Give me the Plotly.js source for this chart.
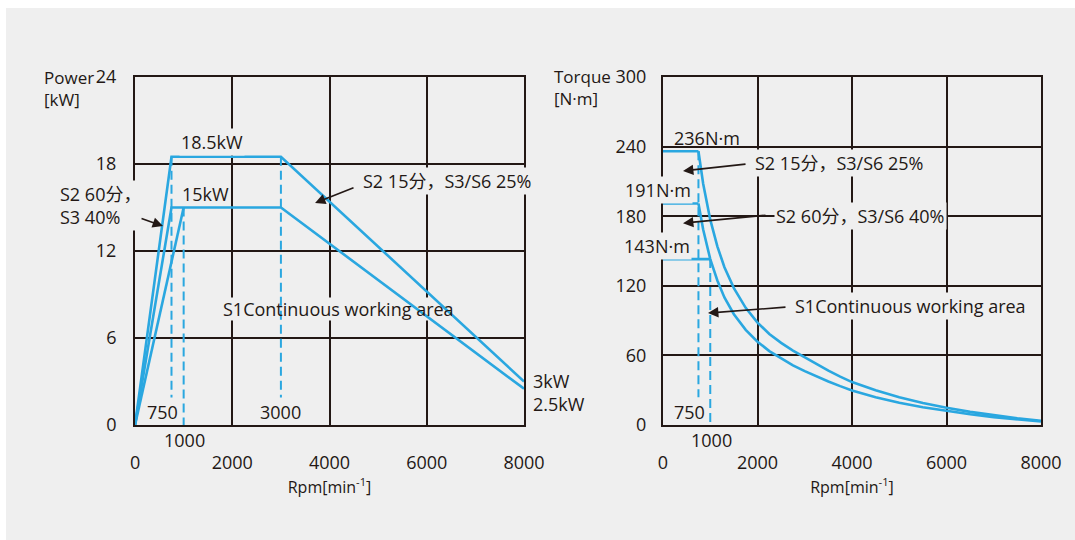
<!DOCTYPE html>
<html>
<head>
<meta charset="utf-8">
<script src="https://cdn.plot.ly/plotly-3.0.1.min.js"></script>
<style>
  html, body { margin: 0; padding: 0; background: #ffffff; }
  #chart { position: absolute; left: 6px; top: 8px; width: 1069px; height: 532px; }
</style>
</head>
<body>
<div id="chart"></div>
<script>
// ---------- data ----------
const rpmTicks = [0, 2000, 4000, 6000, 8000];
const powerTicks = [0, 6, 12, 18, 24];
const torqueTicks = [0, 60, 120, 180, 240, 300];

// Power chart (kW vs rpm)
const rpmPower = [0, 750, 3000, 8000];
const powerS2_15 = [0, 18.5, 18.5, 3];
const powerS2_60 = [0, 15, 15, 2.5];
const rpmS1 = [0, 1000];
const powerS1 = [0, 15];

// Torque chart (N·m vs rpm)
const rpmFlatS2 = [0, 750];
const torqueFlatS2_15 = [236, 236];
const torqueFlatS2_60 = [191, 191];
const rpmFlatS1 = [0, 1000];
const torqueFlatS1 = [143, 143];
const rpmCurve = [750, 850, 1000, 1150, 1300, 1500, 1750, 2000, 2250, 2500, 2750, 3000, 3250, 3500, 3750, 4000, 4500, 5000, 5500, 6000, 6500, 7000, 7500, 8000];
const torqueS2_15 = [236, 208, 177, 154, 136, 118, 101, 88.3, 78.5, 70.8, 64.2, 58.3, 52.4, 46.8, 41.7, 37, 30, 24, 19, 14.8, 11.3, 8.4, 5.8, 3.6];
const torqueS2_60 = [191, 168.5, 143, 124.6, 110, 95.5, 82, 71.8, 63.7, 57.2, 51.4, 46.4, 41.8, 37.5, 33.5, 29.8, 24, 19.2, 15.3, 12, 9.2, 6.8, 4.8, 3.0];

// dashed guide lines
const guideRpm750 = [750, 750];
const guideRpm1000 = [1000, 1000];
const guideRpm3000 = [3000, 3000];
const guidePower750 = [18.5, 1.9];
const guidePower1000 = [15, 0];
const guidePower3000 = [18.5, 1.9];
const guideTorque750 = [236, 24];
const guideTorque1000 = [143, 0];

// ---------- styles ----------
const BLUE = '#2aa7e0';
const INK = '#231815';
const BG = '#efefef';
const FONT = '"Open Sans", "Noto Sans CJK SC", sans-serif';
const FS = 18;

function solid(x, y, xa, ya) {
  return { x: x, y: y, xaxis: xa, yaxis: ya, type: 'scatter', mode: 'lines',
    line: { color: BLUE, width: 2.6 }, hoverinfo: 'skip', showlegend: false };
}
function dashed(x, y, xa, ya) {
  return { x: x, y: y, xaxis: xa, yaxis: ya, type: 'scatter', mode: 'lines',
    line: { color: BLUE, width: 2, dash: '9px,5px' }, hoverinfo: 'skip', showlegend: false };
}

const traces = [
  solid(rpmPower, powerS2_15, 'x', 'y'),
  solid(rpmPower, powerS2_60, 'x', 'y'),
  solid(rpmS1, powerS1, 'x', 'y'),
  dashed(guideRpm750, guidePower750, 'x', 'y'),
  dashed(guideRpm1000, guidePower1000, 'x', 'y'),
  dashed(guideRpm3000, guidePower3000, 'x', 'y'),

  solid(rpmFlatS2, torqueFlatS2_15, 'x2', 'y2'),
  solid(rpmFlatS2, torqueFlatS2_60, 'x2', 'y2'),
  solid(rpmFlatS1, torqueFlatS1, 'x2', 'y2'),
  solid(rpmCurve, torqueS2_15, 'x2', 'y2'),
  solid(rpmCurve, torqueS2_60, 'x2', 'y2'),
  dashed(guideRpm750, guideTorque750, 'x2', 'y2'),
  dashed(guideRpm1000, guideTorque1000, 'x2', 'y2')
];

function axisBase(extra) {
  return Object.assign({
    showgrid: true, gridcolor: INK, gridwidth: 2,
    showline: true, linecolor: INK, linewidth: 2, mirror: true,
    zeroline: false, ticks: 'outside', tickcolor: 'rgba(0,0,0,0)',
    tickfont: { family: FONT, size: FS, color: INK },
    fixedrange: true
  }, extra);
}

function label(text, xref, yref, x, y, xanchor, bg, size) {
  return {
    text: text, xref: xref, yref: yref, x: x, y: y,
    xanchor: xanchor || 'left', yanchor: 'middle', showarrow: false, align: 'left',
    font: { family: FONT, size: size || FS, color: INK },
    bgcolor: bg ? BG : 'rgba(0,0,0,0)', borderpad: 1
  };
}
function arrow(xref, yref, x, y, ax, ay) {
  return { text: '', xref: xref, yref: yref, x: x, y: y, axref: xref, ayref: yref, ax: ax, ay: ay,
    showarrow: true, arrowhead: 2, arrowsize: 1.3, arrowwidth: 1.6, arrowcolor: INK };
}

const annotations = [
  // left chart (outside-range texts use axis-domain fractions)
  label('Power<br>[kW]', 'x domain', 'y domain', -0.238, 0.9667, 'left', false, 17),
  label('18.5kW', 'x', 'y', 900, 19.5, 'left', true),
  label('15kW', 'x', 'y', 920, 15.9, 'left', false),
  label('S2 60分，<br>S3 40%', 'x domain', 'y domain', -0.198, 0.632, 'left', true),
  arrow('x', 'y', 576, 13.72, 103, 14.28),
  label('S2 15分，S3/S6 25%', 'x', 'y', 4650, 16.83, 'left', true),
  arrow('x', 'y', 3702, 15.31, 4524, 16.41),
  label('S1Continuous working area', 'x', 'y', 1760, 8.0, 'left', false),
  label('3kW<br>2.5kW', 'x domain', 'y domain', 1.018, 0.0937, 'left', false),
  label('750', 'x', 'y', 555, 0.92, 'center', false),
  label('3000', 'x', 'y', 2982, 0.92, 'center', false),
  label('1000', 'x domain', 'y domain', 0.1273, -0.0429, 'center', false),

  // right chart
  label('Torque<br>[N·m]', 'x2 domain', 'y2 domain', -0.2935, 0.97, 'left', false, 17),
  label('236N·m', 'x2', 'y2', 180, 247.4, 'left', false),
  label('191N·m', 'x2', 'y2', 640, 202.9, 'right', true),
  label('143N·m', 'x2', 'y2', 620, 154.6, 'right', true),
  label('S2 15分，S3/S6 25%', 'x2', 'y2', 1915, 225.9, 'left', true),
  arrow('x2', 'y2', 423, 219, 1778, 225),
  label('S2 60分，S3/S6 40%', 'x2', 'y2', 2340, 179.9, 'left', true),
  arrow('x2', 'y2', 423, 174, 2201, 181),
  label('S1Continuous working area', 'x2', 'y2', 2760, 102.6, 'left', true),
  arrow('x2', 'y2', 952, 96.5, 2624, 101.7),
  label('750', 'x2', 'y2', 561, 11.2, 'center', false),
  label('1000', 'x2 domain', 'y2 domain', 0.127, -0.0423, 'center', false)
];

const shapes = [
  { type: 'rect', xref: 'x', yref: 'y', x0: 1720, x1: 6680, y0: 7.2, y1: 8.8,
    fillcolor: BG, line: { width: 0 }, layer: 'between' }
];

const xTitle = { text: 'Rpm[min<sup>-1</sup>]', font: { family: FONT, size: 16, color: INK }, standoff: 9 };

const layout = {
  width: 1069, height: 532,
  margin: { l: 0, r: 0, t: 69, b: 115, pad: 0 },
  paper_bgcolor: BG, plot_bgcolor: BG,
  font: { family: FONT, size: FS, color: INK },
  showlegend: false,
  xaxis: axisBase({ domain: [0.1207, 0.4846], range: [0, 8000], tickvals: rpmTicks, ticktext: rpmTicks.map(String), ticklen: 20, anchor: 'y', title: xTitle }),
  yaxis: axisBase({ domain: [0, 1], range: [0, 24], tickvals: powerTicks, ticktext: powerTicks.map(String), ticklen: 13, anchor: 'x' }),
  xaxis2: axisBase({ domain: [0.6146, 0.9682], range: [0, 8000], tickvals: rpmTicks, ticktext: rpmTicks.map(String), ticklen: 20, anchor: 'y2', title: xTitle }),
  yaxis2: axisBase({ domain: [0, 1], range: [0, 300], tickvals: torqueTicks, ticktext: torqueTicks.map(String), ticklen: 11, anchor: 'x2' }),
  annotations: annotations,
  shapes: shapes
};

Plotly.newPlot('chart', traces, layout, { displayModeBar: false, staticPlot: true });
</script>
</body>
</html>
